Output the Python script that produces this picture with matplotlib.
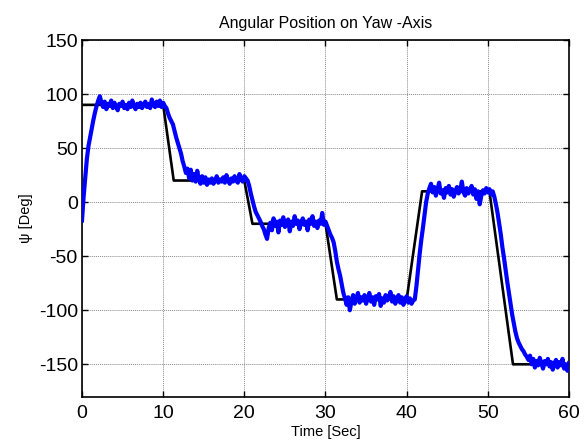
import numpy as np
import matplotlib
matplotlib.use("Agg")
import matplotlib.pyplot as plt

plt.rcParams['font.family'] = ['Liberation Sans', 'DejaVu Sans']
plt.rcParams['axes.unicode_minus'] = False

# Reference (commanded) yaw angle, piecewise-linear breakpoints
ref_time = [0, 10, 11.3, 20, 21, 30, 31.4, 40, 41.9, 50.2, 53.1, 60]
ref_deg = [90, 90, 20, 20, -20, -20, -90, -90, 10, 10, -150, -150]

# Measured yaw angle, sampled every 0.2 s from 0 to 60 s
sample_step = 0.2
meas_deg = [
    -17, 5, 22, 40, 52, 60, 68, 76, 83, 89,
    94, 98, 92, 88, 93, 86, 91, 89, 94, 87,
    92, 88, 85, 91, 89, 93, 87, 90, 86, 92,
    88, 94, 89, 86, 91, 88, 92, 87, 90, 93,
    88, 91, 87, 95, 90, 88, 93, 89, 94, 88,
    92, 89, 87, 82, 78, 75, 72, 66, 60, 55,
    50, 45, 38, 33, 27, 31, 22, 30, 20, 26,
    19, 29, 21, 17, 24, 18, 23, 16, 21, 18,
    22, 17, 20, 24, 18, 21, 19, 23, 18, 25,
    20, 17, 22, 19, 24, 20, 18, 26, 21, 19,
    24, 22, 20, 15, 8, 2, -4, -9, -12, -15,
    -18, -22, -25, -30, -34, -24, -19, -26, -15, -22,
    -18, -28, -17, -21, -14, -23, -19, -16, -27, -18,
    -22, -13, -20, -17, -25, -19, -15, -21, -18, -26,
    -16, -20, -13, -22, -18, -24, -17, -20, -10, -21,
    -18, -22, -26, -30, -33, -37, -45, -55, -62, -68,
    -76, -84, -89, -95, -88, -100, -92, -86, -94, -89,
    -84, -93, -88, -91, -86, -94, -89, -84, -92, -88,
    -95, -87, -90, -85, -96, -89, -93, -86, -91, -88,
    -83, -92, -87, -94, -89, -86, -93, -88, -95, -90,
    -87, -93, -89, -94, -91, -90, -78, -63, -48, -35,
    -24, -12, 0, 8, 13, 17, 9, 14, 6, 12,
    18, 8, 11, 4, 13, 9, 15, 7, 12, 5,
    10, 14, 8, 11, 19, 9, 6, 13, 8, 11,
    15, 7, 12, 3, 10, -2, 6, 11, 8, 13,
    9, 12, 7, 10, 5, -2, -10, -20, -30, -42,
    -52, -63, -74, -84, -94, -104, -112, -120, -126, -130,
    -133, -136, -138, -141, -143, -146, -142, -150, -145, -153,
    -147, -151, -144, -149, -154, -147, -150, -145, -152, -148,
    -155, -149, -146, -153, -148, -151, -145, -154, -150, -156,
    -149,
]
meas_time = np.arange(len(meas_deg)) * sample_step

x_ticks = [0, 10, 20, 30, 40, 50, 60]
y_ticks = [-150, -100, -50, 0, 50, 100, 150]

fig = plt.figure(figsize=(5.84, 4.46), dpi=100)
ax = fig.add_axes([0.1404, 0.1105, 0.8339, 0.7998])

ax.plot(ref_time, ref_deg, color='black', linewidth=1.9, zorder=3)
ax.plot(meas_time, meas_deg, color='#0000ff', linewidth=3.0, zorder=4)

ax.set_xlim(0, 60)
ax.set_ylim(-180, 150)
ax.set_xticks(x_ticks)
ax.set_yticks(y_ticks)

ax.grid(True, linestyle=(0, (1, 1)), color='#8a8a8a', linewidth=0.7)
ax.set_axisbelow(True)

for side in ['left', 'right', 'top', 'bottom']:
    ax.spines[side].set_linewidth(1.2)
    ax.spines[side].set_color('black')

ax.tick_params(axis='both', direction='in', length=4, width=1.0,
               top=True, right=True, labelsize=14, colors='black')
ax.tick_params(axis='y', pad=3)
ax.tick_params(axis='x', pad=6)

ax.set_title('Angular Position on Yaw -Axis', fontsize=11.5, pad=9)
ax.set_xlabel('Time [Sec]', fontsize=10.5, labelpad=2)
ax.set_ylabel('ψ [Deg]', fontsize=10.5, labelpad=4)

fig.savefig('out.png', dpi=100, facecolor='white')
